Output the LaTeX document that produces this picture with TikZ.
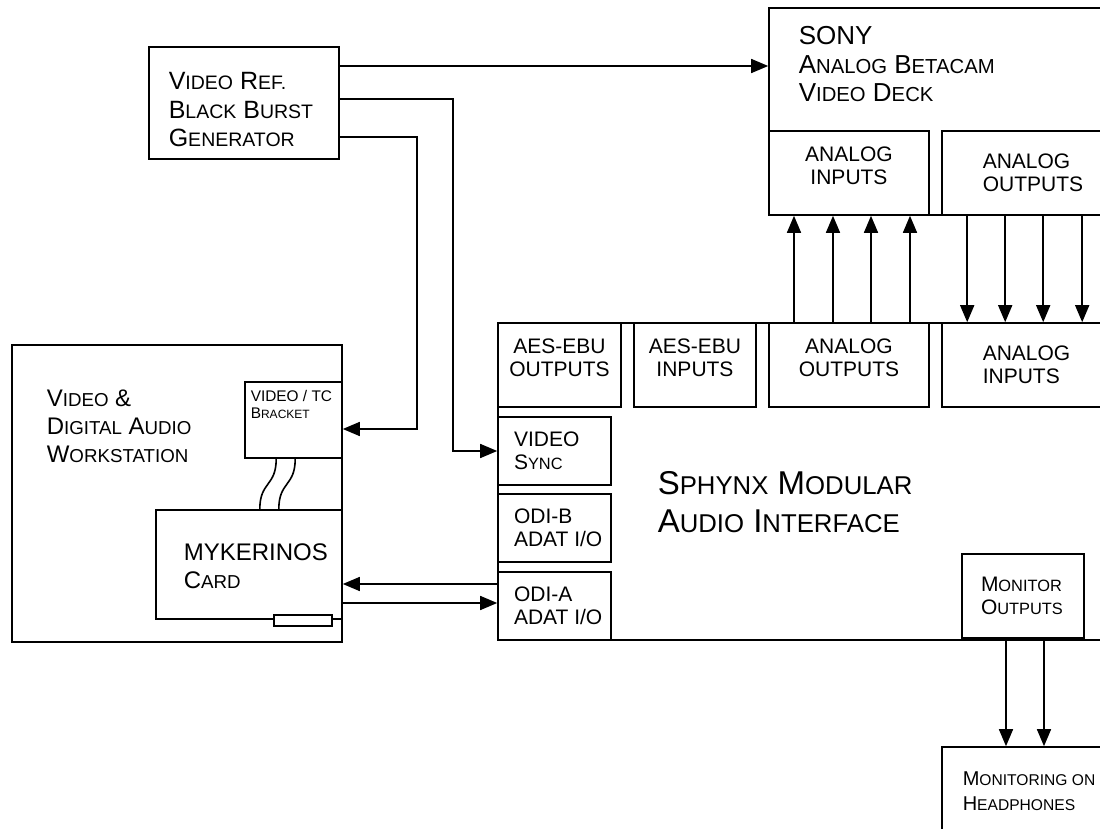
\documentclass[tikz,border=0pt]{standalone}
\usepackage{fontspec}
\setmainfont{Liberation Sans}
\usetikzlibrary{calc,fit,arrows.meta}
\makeatletter
\newdimen\lcdim
\def\lc#1{{\lcdim=\f@size pt\relax\lcdim=0.78\lcdim\fontsize{\strip@pt\lcdim}{\f@baselineskip}\selectfont #1}}
\makeatother

\begin{document}
\begin{tikzpicture}[x=0.5pt, y=-0.5pt, line width=0.8pt,
		>={Triangle[length=8.5pt,width=7pt]},
		box/.style={draw, inner sep=0pt},
		txt/.style={inner sep=0pt, align=left, anchor=north west, font=\fontsize{12}{14}\selectfont},
		subbox/.style={align=center, font=\fontsize{10.5}{11.5}\selectfont},
		sublbl/.style={inner sep=0pt, align=left, anchor=west, font=\fontsize{10.5}{11.5}\selectfont}]
			%%%%% START %%%%%
			\useasboundingbox (0,0) rectangle (1100,829);
			\clip (0,0) rectangle (1100,829);
			
			\node[box, fit={(149,47) (339,159)}] (vref) {};
			\node[txt, font=\fontsize{12.5}{14.25}\selectfont] at (168,72) {V\lc{IDEO} R\lc{EF.}\\B\lc{LACK} B\lc{URST}\\G\lc{ENERATOR}};
			
			\node[box, fit={(769,8) (1130,215)}] (sony) {};
			\node[txt, font=\fontsize{13}{14.15}\selectfont] at (798,26) {SONY\\A\lc{NALOG} B\lc{ETACAM}\\V\lc{IDEO} D\lc{ECK}};
			\node[box, subbox, fit={(769,131) (929,215)}] (sin) {ANALOG\\INPUTS};
			\node[box, fit={(942,131) (1130,215)}] (sout) {};
			\node[sublbl] at (982,173) {ANALOG\\OUTPUTS};
			
			\node[box, fit={(12,345) (342,642)}] (daw) {};
			\node[txt] at (46,389) {V\lc{IDEO} \&\\D\lc{IGITAL} A\lc{UDIO}\\W\lc{ORKSTATION}};
			\node[box, fit={(245,382) (342,458)}] (brk) {};
			\node[txt, font=\fontsize{7.7}{8.5}\selectfont] at (250,390) {VIDEO / TC\\B\lc{RACKET}};
			\node[box, fit={(156,510) (342,619)}] (myk) {};
			\node[txt] at (183,543) {MYKERINOS\\C\lc{ARD}};
			\draw[fill=white] ($(myk.south east)+(-69,-5)$) rectangle ++(58,11);
			\foreach \dx/\ex in {32/-83, 51/-64}
				\draw ($(brk.south west)+(\dx,0)$) .. controls +(0,28) and +(0,-28) .. ($(myk.north east)+(\ex,0)$);
			
			\node[box, fit={(498,323) (1130,640)}] (sph) {};
			\node[txt, font=\fontsize{16.5}{19}\selectfont] at (657,471) {S\lc{PHYNX} M\lc{ODULAR}\\A\lc{UDIO} I\lc{NTERFACE}};
			\node[box, subbox, fit={(498,323) (621,407)}] (aesout) {AES-EBU\\OUTPUTS};
			\node[box, subbox, fit={(634,323) (756,407)}] (aesin) {AES-EBU\\INPUTS};
			\node[box, subbox, fit={(769,323) (929,407)}] (aout) {ANALOG\\OUTPUTS};
			\node[box, fit={(942,323) (1130,407)}] (ain) {};
			\node[sublbl] at (982,365) {ANALOG\\INPUTS};
			\node[box, fit={(498,417) (611,485)}] (vsync) {};
			\node[sublbl] at ($(vsync.west)+(16,0)$) {VIDEO\\S\lc{YNC}};
			\node[box, fit={(498,494) (611,562)}] (odib) {};
			\node[sublbl] at ($(odib.west)+(16,0)$) {ODI-B\\ADAT I/O};
			\node[box, fit={(498,572) (611,640)}] (odia) {};
			\node[sublbl] at ($(odia.west)+(16,0)$) {ODI-A\\ADAT I/O};
			\node[box, fit={(962,554) (1084,638)}] (mon) {};
			\node[sublbl] at ($(mon.west)+(19,0)$) {M\lc{ONITOR}\\O\lc{UTPUTS}};
			
			\node[box, fit={(942,747) (1130,860)}] (hp) {};
			\node[txt, font=\fontsize{10}{12.5}\selectfont] at (962,771) {M\lc{ONITORING ON}\\H\lc{EADPHONES}};
			
			\draw[->] ([yshift=18.5pt]vref.east) coordinate (v1) -- (v1 -| sony.west);
			\draw[->] ([yshift=2pt]vref.east) -| ($(vsync.west)+(-44,0)$) -- (vsync.west);
			\draw[->] ([yshift=-17pt]vref.east) -| ($(brk.east)+(74,9)$) -- ([yshift=-4.5pt]brk.east);
			
			\draw[<-] ([yshift=-9.75pt]myk.east) coordinate (m1) -- (m1 -| odia.west);
			\draw[->] ([yshift=-19.25pt]myk.east) coordinate (m2) -- (m2 -| odia.west);
			
			\foreach \dx in {-55,-16,22,61}
				\draw[->] ($(aout.north)+(\dx,0)$) coordinate (p) -- (p |- sin.south);
			\foreach \dx in {26,64,102,141}
				\draw[->] ($(sout.south west)+(\dx,0)$) coordinate (p) -- (p |- ain.north);
			\foreach \dx in {-17,21}
				\draw[->] ($(mon.south)+(\dx,0)$) coordinate (p) -- (p |- hp.north);
			
			%%%%% END %%%%%
\end{tikzpicture}
\end{document}
